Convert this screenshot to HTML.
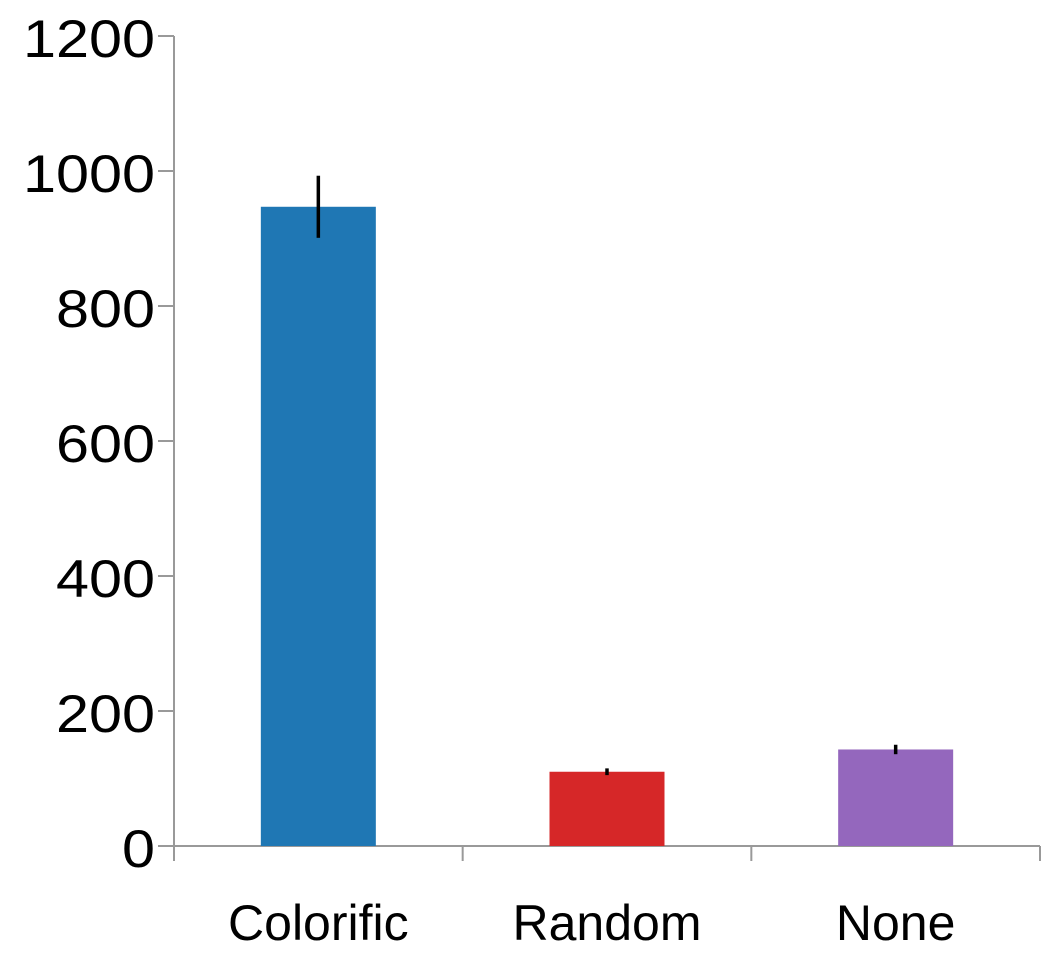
<!DOCTYPE html>
<html><head><meta charset="utf-8"><style>
body{margin:0;background:#fff}
svg text{font-family:"Liberation Sans",Arial,sans-serif;fill:#000}
</style></head><body>
<svg width="1059" height="971">
<g id="axes"></g><g id="bars"></g>
</svg>
<script>
const categories=["Colorific","Random","None"];
const values=[947,110,143];
const errors=[46,5,7];
const colors=["#1f77b4","#d62728","#9467bd"];
const yTicks=[0,200,400,600,800,1000,1200];
const X0=174,X1=1040,Y0=846,Y1=36,YMAX=1200;
const y=v=>Y0-(Y0-Y1)*v/YMAX;
const band=(X1-X0)/categories.length;
const NS="http://www.w3.org/2000/svg";
function mk(t,a,p){const e=document.createElementNS(NS,t);for(const k in a)e.setAttribute(k,a[k]);p.appendChild(e);return e;}
const ax=document.getElementById('axes'),bs=document.getElementById('bars');
const yl=mk('line',{x1:X0,y1:Y1,x2:X0,y2:Y0+15,stroke:'#999','stroke-width':2},ax);


const xl=mk('line',{x1:X0-16,y1:Y0,x2:X1,y2:Y0,stroke:'#999','stroke-width':2},ax);


yTicks.forEach(t=>{
 const l=mk('line',{x1:X0-16,y1:y(t),x2:X0,y2:y(t),stroke:'#999','stroke-width':2},ax);
 
 
 const s=String(t);
 const tx=mk('text',{x:155,y:y(t)+21,'text-anchor':'end','font-size':53,textLength:33*s.length,lengthAdjust:'spacingAndGlyphs'},ax);
 tx.textContent=s;
 
 
});
for(let i=0;i<=categories.length;i++){
 const l=mk('line',{x1:X0+band*i,y1:Y0,x2:X0+band*i,y2:Y0+15,stroke:'#999','stroke-width':2},ax);
 
 
}
categories.forEach((c,i)=>{
 const cx=X0+band*(i+0.5),w=115;
 const r=mk('rect',{x:cx-w/2,y:y(values[i]),width:w,height:Y0-y(values[i]),fill:colors[i]},bs);
 
 
 const e=mk('line',{x1:cx,y1:y(values[i]+errors[i]),x2:cx,y2:y(values[i]-errors[i]),stroke:'#000','stroke-width':3.5},bs);
 
 
 const t=mk('text',{x:cx,y:940,'text-anchor':'middle','font-size':50},bs);
 t.textContent=c;
 
 
});
</script>
</body></html>
